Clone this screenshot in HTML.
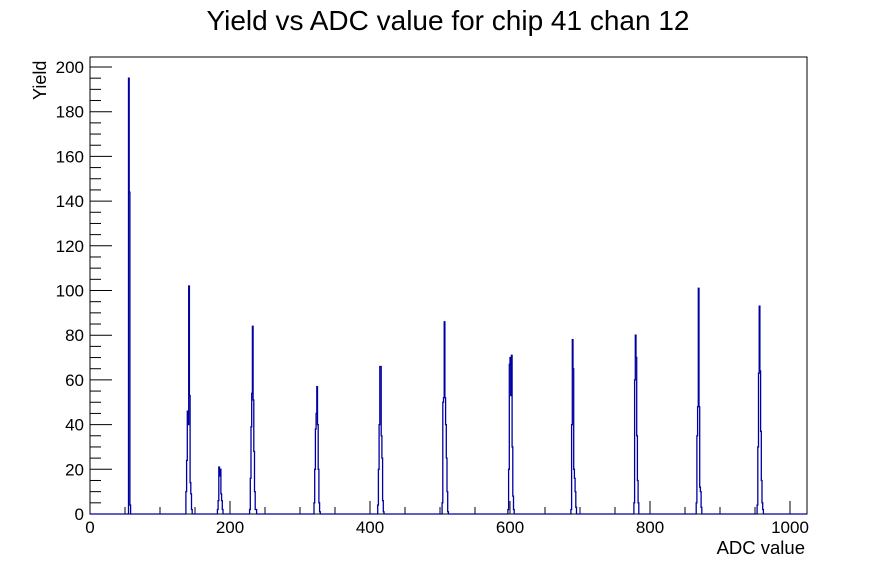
<!DOCTYPE html>
<html><head><meta charset="utf-8"><style>
html,body{margin:0;padding:0;background:#fff;}
svg{display:block;font-family:"Liberation Sans",sans-serif;}
</style></head><body>
<svg id="s" width="896" height="572" xmlns="http://www.w3.org/2000/svg">
<rect width="896" height="572" fill="#fff"/>
<text x="448" y="30" font-size="28" text-anchor="middle">Yield vs ADC value for chip 41 chan 12</text>
<rect x="90" y="57" width="717" height="457" fill="none" stroke="#000" stroke-width="1"/>
<g id="ticks" stroke="#000" stroke-width="1"></g>
<g id="lbl" font-size="17"></g>
<path id="h" fill="none" stroke="#0000a0" stroke-width="1.3"/>
<text x="805" y="554" font-size="18.5" text-anchor="end">ADC value</text>
<text transform="translate(46,100) rotate(-90)" font-size="18" text-anchor="start">Yield</text>
</svg>
<script>
var X=function(v){return 90+v*0.7;},Y=function(v){return 514-v*2.235;};
var t="",l="";
for(var v=0;v<=1020;v+=50){var len=(v%200==0)?13:7;t+='<line x1="'+X(v)+'" y1="514" x2="'+X(v)+'" y2="'+(514-len)+'"/>';
if(v%200==0)l+='<text x="'+X(v)+'" y="533" text-anchor="middle">'+v+'</text>';}
for(var v=0;v<=200;v+=5){var len=(v%20==0)?22:11;t+='<line x1="90" y1="'+Y(v)+'" x2="'+(90+len)+'" y2="'+Y(v)+'"/>';
if(v%20==0)l+='<text x="84" y="'+(Y(v)+6)+'" text-anchor="end">'+v+'</text>';}
document.getElementById("ticks").innerHTML=t;document.getElementById("lbl").innerHTML=l;
var P=[[55,[195,144,4]],[137,[10,24,46,40,102,53,14,9,2]],[182,[2,6,21,17,20,9,6,2]],
[228,[2,16,39,54,84,51,28,10,2,2]],[320,[5,20,38,45,57,40,20,5,1]],[411,[4,20,40,66,66,35,25,6,1]],
[503,[5,50,52,86,52,40,25,10,1]],[597,[2,20,67,70,53,71,30,8,2]],[687,[2,40,78,65,20,16,10,3]],
[777,[5,60,80,70,35,15,5]],[866,[5,35,48,101,48,12,10,3]],[953,[4,30,63,93,64,37,15,5,2]]];
var b=new Array(1024).fill(0);P.forEach(function(p){p[1].forEach(function(v,i){b[p[0]+i]=v;});});
var d="M"+X(0)+" "+Y(0),prev=0;
for(var i=0;i<1024;i++){if(b[i]!=prev){d+=" L"+X(i)+" "+Y(prev)+" L"+X(i)+" "+Y(b[i]);prev=b[i];}}
d+=" L"+X(1024)+" "+Y(prev);
document.getElementById("h").setAttribute("d",d);
</script>
</body></html>
